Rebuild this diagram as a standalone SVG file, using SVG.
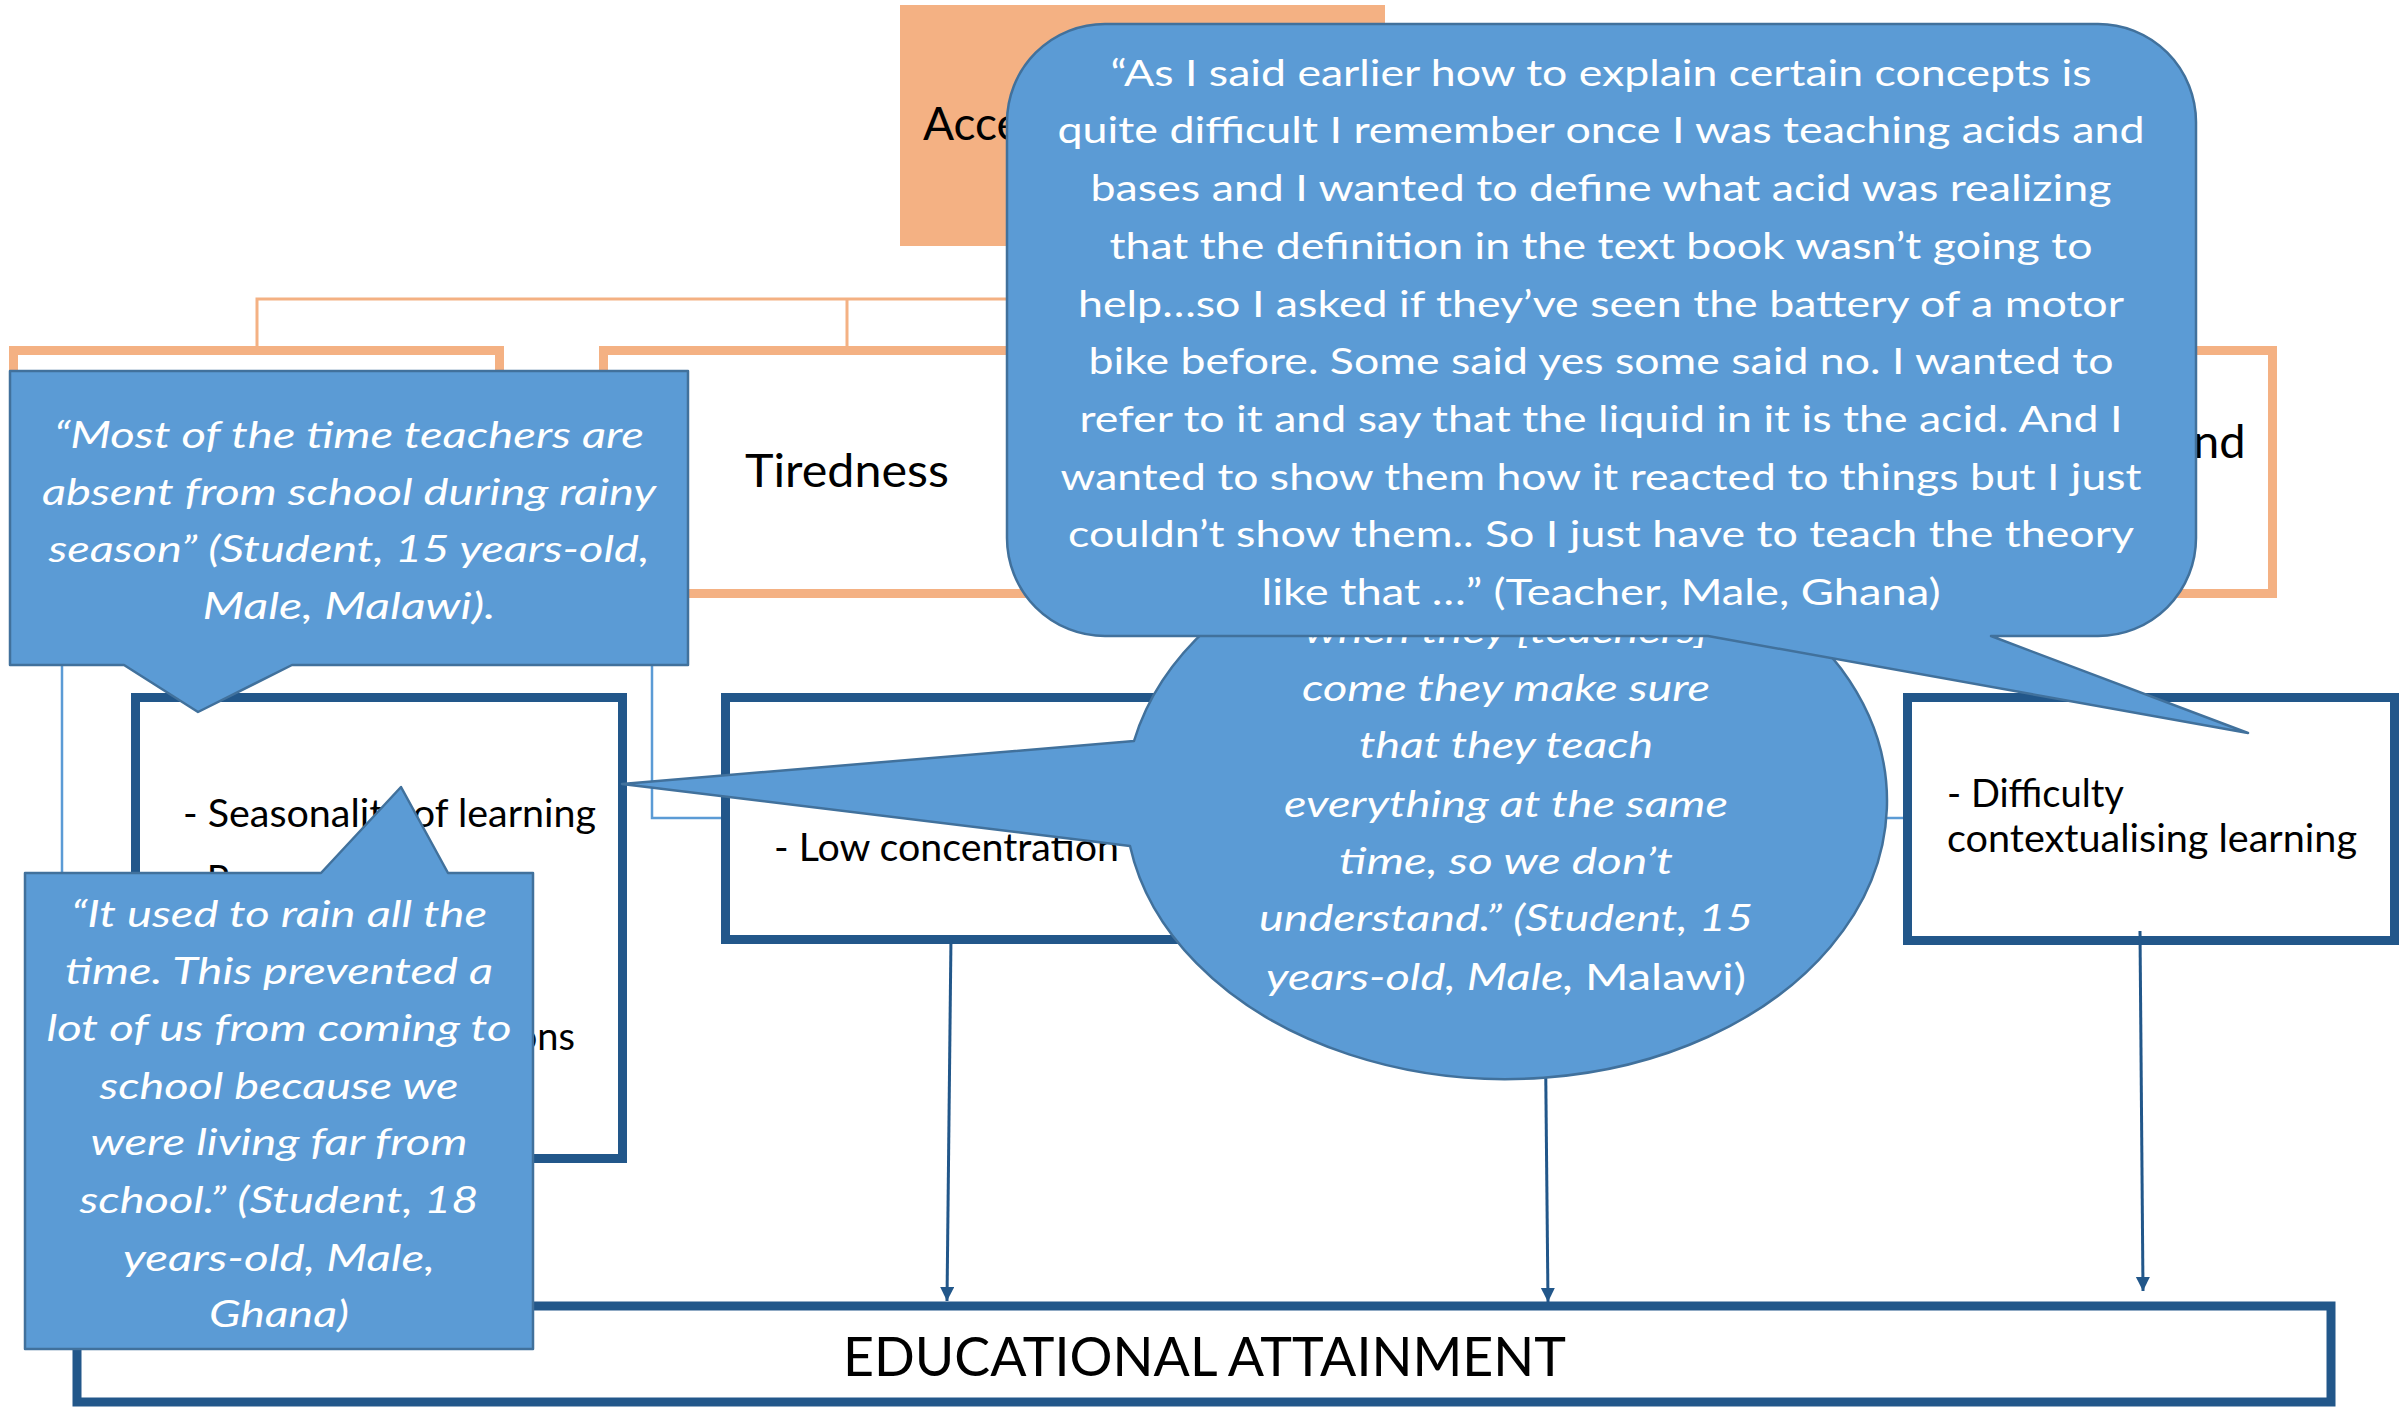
<svg xmlns="http://www.w3.org/2000/svg" width="2407" height="1411" viewBox="0 0 2407 1411">
<defs>
<style>
.obox{fill:#fff;stroke:#F4B183;stroke-width:9}
.oline{fill:none;stroke:#F4B183;stroke-width:3}
.bbox{fill:#fff;stroke:#22578A;stroke-width:9}
.thin{fill:none;stroke:#5B9BD5;stroke-width:2.5}
.arrow{fill:none;stroke:#22578A;stroke-width:3;marker-end:url(#ah)}
.callout{fill:#5B9BD5;stroke:#41719C;stroke-width:2.5;stroke-linejoin:round}
.lbl{font-family:Lato,"Liberation Sans",sans-serif;fill:#000}
.q{font-family:Lato,"Liberation Sans",sans-serif;fill:#fff;font-size:36px;font-style:italic;text-anchor:middle}
.qr{font-family:Lato,"Liberation Sans",sans-serif;fill:#fff;font-size:37px;text-anchor:middle}
</style>
<marker id="ah" markerUnits="userSpaceOnUse" markerWidth="16" markerHeight="16" refX="14" refY="7" orient="auto">
<path d="M0,0 L14,7 L0,14 Z" fill="#22578A"/>
</marker>
</defs>
<rect width="2407" height="1411" fill="#fff"/>

<g id="connectors">
<path class="oline" d="M257,346 V299 H2029 V346 M847,299 V346 M1142,246 V299"/>
<path class="thin" d="M62,1100 V500 H652 V818 H1903"/>
</g>

<g id="access">
<rect x="900" y="5" width="485" height="241" fill="#F4B183"/>
<text class="lbl" x="923" y="140" font-size="46">Acce</text>
</g>

<g id="orange1"><rect class="obox" x="13.5" y="350.5" width="486" height="243"/></g>
<g id="tiredness">
<rect class="obox" x="603.5" y="350.5" width="486" height="243"/>
<text class="lbl" x="745" y="487" font-size="47" textLength="204" lengthAdjust="spacingAndGlyphs">Tiredness</text>
</g>
<g id="orange3">
<rect class="obox" x="1786.5" y="350.5" width="486" height="243"/>
<text class="lbl" x="2193" y="458" font-size="47">nd</text>
</g>

<g id="box-seasonality">
<rect class="bbox" x="135.5" y="697.5" width="487" height="461"/>
<text class="lbl" x="183" y="827" font-size="38" textLength="413" lengthAdjust="spacingAndGlyphs">- Seasonality of learning</text>
<text class="lbl" x="183" y="893" font-size="38">- R</text>
<text class="lbl" x="575" y="1050" font-size="38" text-anchor="end">ons</text>
</g>
<g id="box-concentration">
<rect class="bbox" x="725.5" y="697.5" width="487" height="242"/>
<text class="lbl" x="774" y="861" font-size="38" textLength="345" lengthAdjust="spacingAndGlyphs">- Low concentration</text>
</g>
<g id="box-difficulty">
<rect class="bbox" x="1907.5" y="697.5" width="487" height="243"/>
<text class="lbl" x="1947" y="807" font-size="38" textLength="177" lengthAdjust="spacingAndGlyphs">- Difficulty</text>
<text class="lbl" x="1947" y="852" font-size="38" textLength="410" lengthAdjust="spacingAndGlyphs">contextualising learning</text>
</g>

<g id="arrows">
<line class="arrow" x1="951" y1="936" x2="947" y2="1301"/>
<line class="arrow" x1="1545" y1="1000" x2="1548" y2="1302"/>
<line class="arrow" x1="2140" y1="931" x2="2143" y2="1291"/>
</g>

<g id="attainment">
<rect class="bbox" x="77" y="1306" width="2254" height="96" stroke-width="8"/>
<text class="lbl" x="843" y="1376" font-size="54" textLength="723" lengthAdjust="spacingAndGlyphs">EDUCATIONAL ATTAINMENT</text>
</g>

<g id="quote-absent">
<path class="callout" d="M10,371 H688 V665 H292 L198,712 L124,665 H10 Z"/>
<text class="q" x="349" y="448" textLength="590" lengthAdjust="spacingAndGlyphs">“Most of the time teachers are</text>
<text class="q" x="349" y="505" textLength="614" lengthAdjust="spacingAndGlyphs">absent from school during rainy</text>
<text class="q" x="349" y="562" textLength="601" lengthAdjust="spacingAndGlyphs">season” (Student, 15 years-old,</text>
<text class="q" x="349" y="619" textLength="293" lengthAdjust="spacingAndGlyphs">Male, Malawi).</text>
</g>

<g id="quote-rain">
<path class="callout" d="M25,873 H321 L401,787 L448,873 H533 V1349 H25 Z"/>
<text class="q" x="279" y="927" textLength="416" lengthAdjust="spacingAndGlyphs">“It used to rain all the</text>
<text class="q" x="279" y="984" textLength="428" lengthAdjust="spacingAndGlyphs">time. This prevented a</text>
<text class="q" x="279" y="1041" textLength="465" lengthAdjust="spacingAndGlyphs">lot of us from coming to</text>
<text class="q" x="279" y="1099" textLength="359" lengthAdjust="spacingAndGlyphs">school because we</text>
<text class="q" x="279" y="1155" textLength="377" lengthAdjust="spacingAndGlyphs">were living far from</text>
<text class="q" x="279" y="1213" textLength="399" lengthAdjust="spacingAndGlyphs">school.” (Student, 18</text>
<text class="q" x="279" y="1271" textLength="312" lengthAdjust="spacingAndGlyphs">years-old, Male,</text>
<text class="q" x="279" y="1327" textLength="140" lengthAdjust="spacingAndGlyphs">Ghana)</text>
</g>

<g id="quote-teach">
<path class="callout" d="M1134,741 A381,278 0 1 1 1130,846 L622,784 Z"/>
<text class="q" x="1506" y="643" textLength="404" lengthAdjust="spacingAndGlyphs">when they [teachers]</text>
<text class="q" x="1506" y="701" textLength="408" lengthAdjust="spacingAndGlyphs">come they make sure</text>
<text class="q" x="1506" y="758" textLength="294" lengthAdjust="spacingAndGlyphs">that they teach</text>
<text class="q" x="1506" y="817" textLength="444" lengthAdjust="spacingAndGlyphs">everything at the same</text>
<text class="q" x="1506" y="874" textLength="334" lengthAdjust="spacingAndGlyphs">time, so we don’t</text>
<text class="q" x="1506" y="931" textLength="494" lengthAdjust="spacingAndGlyphs">understand.” (Student, 15</text>
<text class="q" x="1506" y="990" textLength="480" lengthAdjust="spacingAndGlyphs">years-old, Male, <tspan font-style="normal">Malawi)</tspan></text>
</g>

<g id="quote-acid">
<path class="callout" d="M1105,24 H2098 A98,98 0 0 1 2196,122 V538 A98,98 0 0 1 2098,636 H1991 L2248,733 L1708,636 H1105 A98,98 0 0 1 1007,538 V122 A98,98 0 0 1 1105,24 Z"/>
<text class="qr" x="1601" y="86" textLength="981" lengthAdjust="spacingAndGlyphs">“As I said earlier how to explain certain concepts is</text>
<text class="qr" x="1601" y="143" textLength="1087" lengthAdjust="spacingAndGlyphs">quite difficult I remember once I was teaching acids and</text>
<text class="qr" x="1601" y="201" textLength="1021" lengthAdjust="spacingAndGlyphs">bases and I wanted to define what acid was realizing</text>
<text class="qr" x="1601" y="259" textLength="983" lengthAdjust="spacingAndGlyphs">that the definition in the text book wasn’t going to</text>
<text class="qr" x="1601" y="317" textLength="1046" lengthAdjust="spacingAndGlyphs">help…so I asked if they’ve seen the battery of a motor</text>
<text class="qr" x="1601" y="374" textLength="1025" lengthAdjust="spacingAndGlyphs">bike before. Some said yes some said no. I wanted to</text>
<text class="qr" x="1601" y="432" textLength="1043" lengthAdjust="spacingAndGlyphs">refer to it and say that the liquid in it is the acid. And I</text>
<text class="qr" x="1601" y="490" textLength="1081" lengthAdjust="spacingAndGlyphs">wanted to show them how it reacted to things but I just</text>
<text class="qr" x="1601" y="547" textLength="1066" lengthAdjust="spacingAndGlyphs">couldn’t show them.. So I just have to teach the theory</text>
<text class="qr" x="1601" y="605" textLength="679" lengthAdjust="spacingAndGlyphs">like that …” (Teacher, Male, Ghana)</text>
</g>
</svg>
